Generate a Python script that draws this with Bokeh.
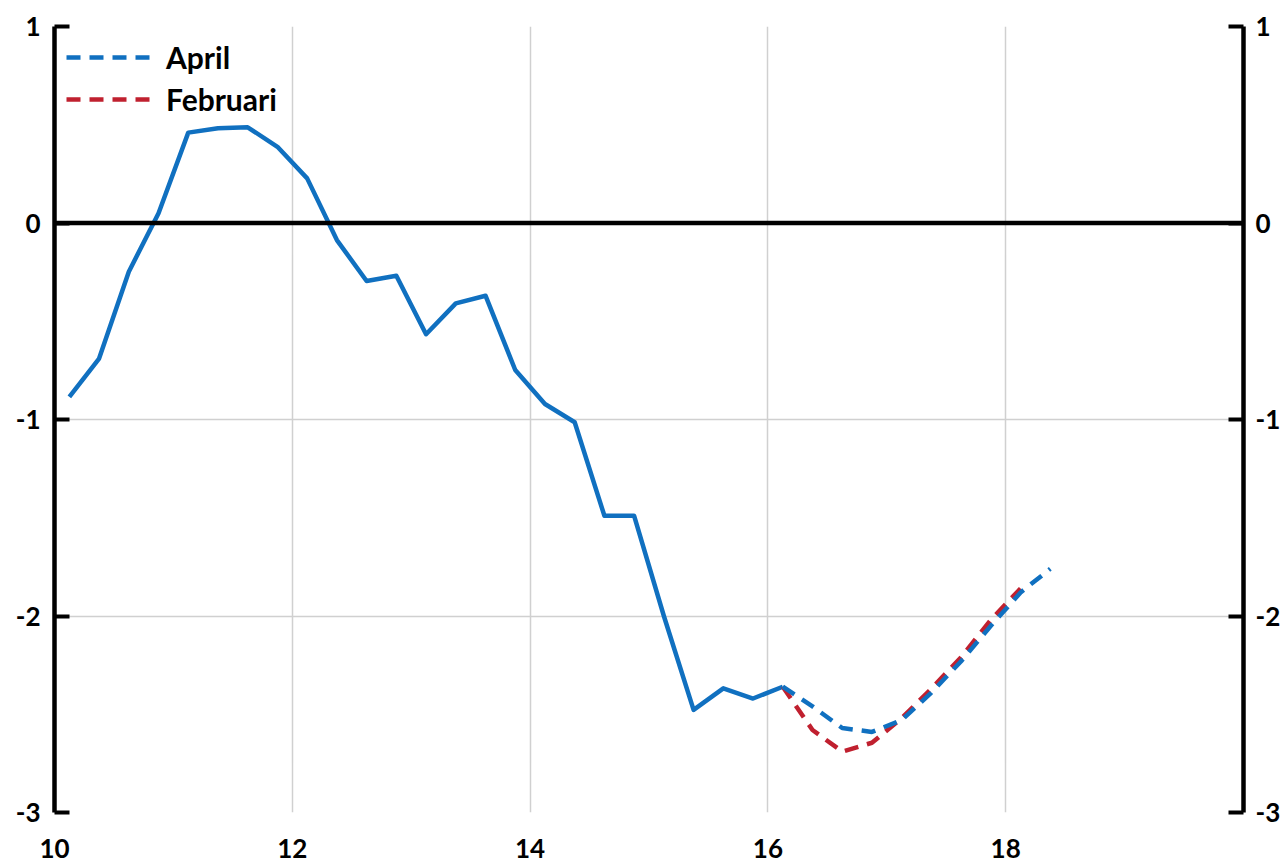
from bokeh.plotting import figure
from bokeh.models import Range1d, LinearAxis, FixedTicker, Span, Legend, LegendItem
from bokeh.embed import file_html
from bokeh.resources import INLINE

# ---- data (x = year, quarterly mid-points) ----
hist_x = [10.125, 10.375, 10.625, 10.875, 11.125, 11.375, 11.625, 11.875,
          12.125, 12.375, 12.625, 12.875, 13.125, 13.375, 13.625, 13.875,
          14.125, 14.375, 14.625, 14.875, 15.125, 15.375, 15.625, 15.875, 16.125]
hist_y = [-0.885, -0.69, -0.248, 0.05, 0.46, 0.482, 0.487, 0.388,
          0.227, -0.087, -0.295, -0.268, -0.566, -0.409, -0.37, -0.748,
          -0.921, -1.014, -1.49, -1.49, -2.0, -2.478, -2.368, -2.42, -2.36]

april_x = [16.125, 16.375, 16.625, 16.875, 17.125, 17.375, 17.625, 17.875, 18.125, 18.375]
april_y = [-2.36, -2.46, -2.57, -2.59, -2.53, -2.39, -2.23, -2.05, -1.88, -1.76]

feb_x = [16.125, 16.375, 16.625, 16.875, 17.125, 17.375, 17.625, 17.875, 18.125]
feb_y = [-2.36, -2.58, -2.69, -2.645, -2.52, -2.37, -2.21, -2.02, -1.86]

x_ticks = [10, 12, 14, 16, 18]
y_ticks = [-3, -2, -1, 0, 1]
y_tick_labels = ["-3", "-2", "-1", "0", "1"]
series_names = ["April", "Februari"]

BLUE = "#1070C0"
RED = "#C0202F"
FONT = "Lato"

p = figure(width=1283, height=864, output_backend="svg", toolbar_location=None,
           x_range=Range1d(10, 20), y_range=Range1d(-3, 1),
           min_border_left=54, min_border_right=39, min_border_top=26, min_border_bottom=52)
p.outline_line_color = None
p.background_fill_color = "white"

# grids
p.xgrid.ticker = FixedTicker(ticks=x_ticks)
p.ygrid.ticker = FixedTicker(ticks=y_ticks)
for g in (p.xgrid, p.ygrid):
    g.grid_line_color = "#D0D0D0"
    g.grid_line_width = 1.5

# x axis: labels only
xa = p.xaxis[0]
xa.ticker = FixedTicker(ticks=x_ticks)
xa.axis_line_color = None
xa.major_tick_line_color = None
xa.minor_tick_line_color = None
xa.major_label_standoff = 20

# y axes (left + right)
ya_left = p.yaxis[0]
ya_right = LinearAxis()
p.add_layout(ya_right, "right")
for ax, so in ((ya_left, 14), (ya_right, 12)):
    ax.ticker = FixedTicker(ticks=y_ticks)
    ax.major_label_overrides = {t: s for t, s in zip(y_ticks, y_tick_labels)}
    ax.axis_line_color = "black"
    ax.axis_line_width = 4.5
    ax.major_tick_in = 15
    ax.major_tick_out = 0
    ax.major_tick_line_width = 4
    ax.major_tick_line_color = "black"
    ax.minor_tick_line_color = None
    ax.major_label_standoff = so

for ax in (xa, ya_left, ya_right):
    ax.major_label_text_font = FONT
    ax.major_label_text_font_style = "bold"
    ax.major_label_text_font_size = "26px"
    ax.major_label_text_color = "black"

# zero line
p.add_layout(Span(location=0, dimension="width", line_color="black", line_width=4.5))

# series
p.line(hist_x, hist_y, line_color=BLUE, line_width=4.5, line_join="round")
r_feb = p.line(feb_x, feb_y, line_color=RED, line_width=4.5, line_dash="14 9")
r_apr = p.line(april_x, april_y, line_color=BLUE, line_width=4.5, line_dash="14 9")

legend = Legend(items=[LegendItem(label=series_names[0], renderers=[r_apr]),
                       LegendItem(label=series_names[1], renderers=[r_feb])],
                location="top_left")
legend.margin = 12
legend.padding = 0
legend.spacing = 4
legend.glyph_width = 86
legend.glyph_height = 38
legend.label_standoff = 14
legend.label_text_font = FONT
legend.label_text_font_style = "bold"
legend.label_text_font_size = "30px"
legend.label_text_color = "black"
legend.background_fill_alpha = 0
legend.border_line_color = None
p.add_layout(legend, "center")

open("out.html", "w").write(file_html(p, INLINE))
